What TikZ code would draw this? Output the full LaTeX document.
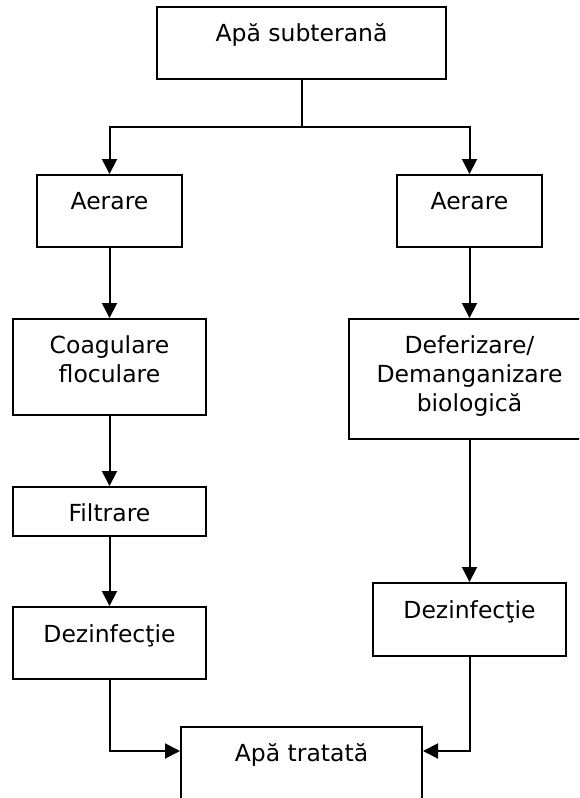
\documentclass[tikz,border=0pt]{standalone}
\usepackage{fontspec}
\setmainfont{DejaVu Sans}
\usetikzlibrary{arrows.meta}
\begin{document}
\begin{tikzpicture}[x=1pt,y=-1pt,
  box/.style={draw, line width=2pt, inner sep=0pt, rectangle},
  lbl/.style={anchor=base, align=center, inner sep=0pt, font=\fontsize{23.5}{29}\selectfont},
  wire/.style={line width=2pt},
  conn/.style={line width=2pt, -{Triangle[width=15pt,length=15pt]}}]
\useasboundingbox (0,0) rectangle (579,798);
\clip (0,0) rectangle (579,798);
% boxes
\node[box, minimum width=289pt, minimum height=72pt]  (src)   at (301.5,43)  {};
\node[box, minimum width=145pt, minimum height=72pt]  (aerL)  at (109.5,211)  {};
\node[box, minimum width=145pt, minimum height=72pt]  (aerR)  at (469.5,211)  {};
\node[box, minimum width=193pt, minimum height=96pt]  (coag)  at (109.5,367)  {};
\node[box, minimum width=193pt, minimum height=49pt]  (filt)  at (109.5,511.5) {};
\node[box, minimum width=193pt, minimum height=72pt]  (dezL)  at (109.5,643)  {};
\node[box, minimum width=242pt, minimum height=120pt] (defer) at (469.5,379)  {};
\node[box, minimum width=193pt, minimum height=73pt]  (dezR)  at (469.5,619.5) {};
\node[box, minimum width=241pt, minimum height=100pt] (out)   at (301.5,777)  {};
% labels (base anchor = baseline of the last line)
\node[lbl] (tsrc)   at ([yshift=-35.5pt]src.north)   {Apă subterană};
\node[lbl] (taerL)  at ([yshift=-35.5pt]aerL.north)  {Aerare};
\node[lbl] (taerR)  at ([yshift=-35.5pt]aerR.north)  {Aerare};
\node[lbl] (tcoag)  at ([yshift=-64.5pt]coag.north)  {Coagulare\\floculare};
\node[lbl] (tfilt)  at ([yshift=-35.5pt]filt.north)  {Filtrare};
\node[lbl] (tdezL)  at ([yshift=-36pt]dezL.north)    {Dezinfecţie};
\node[lbl] (tdefer) at ([yshift=-93.5pt]defer.north) {Deferizare/\\Demanganizare\\biologică};
\node[lbl] (tdezR)  at ([yshift=-36pt]dezR.north)    {Dezinfecţie};
\node[lbl] (tout)   at ([yshift=-35.5pt]out.north)   {Apă tratată};
% connectors
\coordinate (jn) at (301.5,127);
\draw[wire] (src.south) -- (jn);
\draw[conn] (jn) -| (aerL.north);
\draw[conn] (jn) -| (aerR.north);
\draw[conn] (aerL.south) -- (coag.north);
\draw[conn] (coag.south) -- (filt.north);
\draw[conn] (filt.south) -- (dezL.north);
\draw[conn] (aerR.south) -- (defer.north);
\draw[conn] (defer.south) -- (dezR.north);
\draw[conn] (dezL.south) |- ([yshift=-25pt]out.north west);
\draw[conn] (dezR.south) |- ([yshift=-25pt]out.north east);
\end{tikzpicture}
\end{document}
